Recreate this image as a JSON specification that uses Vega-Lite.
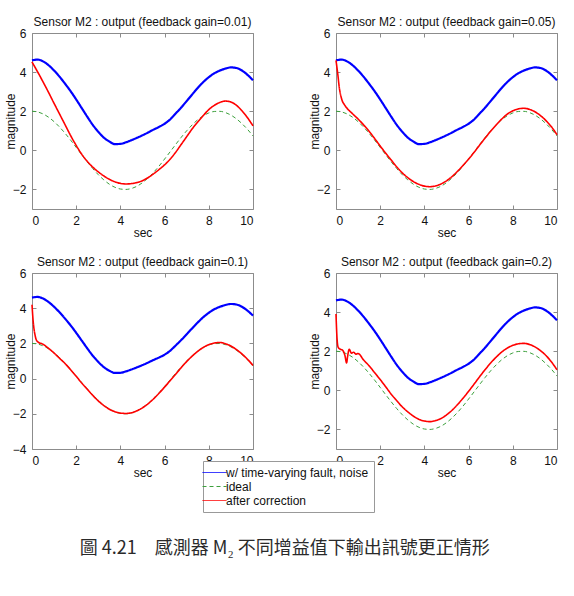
{
  "$schema": "https://vega.github.io/schema/vega-lite/v6.json",
  "background": "white",
  "padding": {"left": 3, "top": 15, "right": 5, "bottom": 5},
  "title": {
    "text": "圖 4.21　感測器 M₂ 不同增益值下輸出訊號更正情形",
    "orient": "bottom",
    "anchor": "start",
    "dx": 76,
    "offset": 27,
    "font": "Noto Sans CJK TC",
    "fontSize": 18,
    "fontWeight": "normal",
    "color": "#2a2a2a"
  },
  "data": {
    "values": [
      {"g": "all", "s": "fault", "t": 0, "v": 4.6},
      {"g": "all", "s": "fault", "t": 0.25, "v": 4.64},
      {"g": "all", "s": "fault", "t": 0.5, "v": 4.55},
      {"g": "all", "s": "fault", "t": 0.75, "v": 4.35},
      {"g": "all", "s": "fault", "t": 1, "v": 4.08},
      {"g": "all", "s": "fault", "t": 1.25, "v": 3.76},
      {"g": "all", "s": "fault", "t": 1.5, "v": 3.4},
      {"g": "all", "s": "fault", "t": 1.75, "v": 3.02},
      {"g": "all", "s": "fault", "t": 2, "v": 2.6},
      {"g": "all", "s": "fault", "t": 2.25, "v": 2.16},
      {"g": "all", "s": "fault", "t": 2.5, "v": 1.72},
      {"g": "all", "s": "fault", "t": 2.75, "v": 1.3},
      {"g": "all", "s": "fault", "t": 3, "v": 0.95},
      {"g": "all", "s": "fault", "t": 3.25, "v": 0.65},
      {"g": "all", "s": "fault", "t": 3.5, "v": 0.45},
      {"g": "all", "s": "fault", "t": 3.75, "v": 0.32},
      {"g": "all", "s": "fault", "t": 4, "v": 0.33},
      {"g": "all", "s": "fault", "t": 4.25, "v": 0.41},
      {"g": "all", "s": "fault", "t": 4.5, "v": 0.52},
      {"g": "all", "s": "fault", "t": 4.75, "v": 0.64},
      {"g": "all", "s": "fault", "t": 5, "v": 0.77},
      {"g": "all", "s": "fault", "t": 5.25, "v": 0.91},
      {"g": "all", "s": "fault", "t": 5.5, "v": 1.06},
      {"g": "all", "s": "fault", "t": 5.75, "v": 1.2},
      {"g": "all", "s": "fault", "t": 6, "v": 1.36},
      {"g": "all", "s": "fault", "t": 6.25, "v": 1.58},
      {"g": "all", "s": "fault", "t": 6.5, "v": 1.88},
      {"g": "all", "s": "fault", "t": 6.75, "v": 2.19},
      {"g": "all", "s": "fault", "t": 7, "v": 2.52},
      {"g": "all", "s": "fault", "t": 7.25, "v": 2.86},
      {"g": "all", "s": "fault", "t": 7.5, "v": 3.19},
      {"g": "all", "s": "fault", "t": 7.75, "v": 3.49},
      {"g": "all", "s": "fault", "t": 8, "v": 3.74},
      {"g": "all", "s": "fault", "t": 8.25, "v": 3.94},
      {"g": "all", "s": "fault", "t": 8.5, "v": 4.08},
      {"g": "all", "s": "fault", "t": 8.75, "v": 4.18},
      {"g": "all", "s": "fault", "t": 9, "v": 4.24},
      {"g": "all", "s": "fault", "t": 9.25, "v": 4.21},
      {"g": "all", "s": "fault", "t": 9.5, "v": 4.08},
      {"g": "all", "s": "fault", "t": 9.75, "v": 3.86},
      {"g": "all", "s": "fault", "t": 10, "v": 3.58},

      {"g": "all", "s": "ideal", "t": 0, "v": 2.0},
      {"g": "all", "s": "ideal", "t": 0.25, "v": 1.965},
      {"g": "all", "s": "ideal", "t": 0.5, "v": 1.862},
      {"g": "all", "s": "ideal", "t": 0.75, "v": 1.693},
      {"g": "all", "s": "ideal", "t": 1, "v": 1.466},
      {"g": "all", "s": "ideal", "t": 1.25, "v": 1.187},
      {"g": "all", "s": "ideal", "t": 1.5, "v": 0.868},
      {"g": "all", "s": "ideal", "t": 1.75, "v": 0.518},
      {"g": "all", "s": "ideal", "t": 2, "v": 0.149},
      {"g": "all", "s": "ideal", "t": 2.25, "v": -0.224},
      {"g": "all", "s": "ideal", "t": 2.5, "v": -0.59},
      {"g": "all", "s": "ideal", "t": 2.75, "v": -0.934},
      {"g": "all", "s": "ideal", "t": 3, "v": -1.247},
      {"g": "all", "s": "ideal", "t": 3.25, "v": -1.511},
      {"g": "all", "s": "ideal", "t": 3.5, "v": -1.732},
      {"g": "all", "s": "ideal", "t": 3.75, "v": -1.888},
      {"g": "all", "s": "ideal", "t": 4, "v": -1.978},
      {"g": "all", "s": "ideal", "t": 4.25, "v": -1.999},
      {"g": "all", "s": "ideal", "t": 4.5, "v": -1.95},
      {"g": "all", "s": "ideal", "t": 4.75, "v": -1.836},
      {"g": "all", "s": "ideal", "t": 5, "v": -1.652},
      {"g": "all", "s": "ideal", "t": 5.25, "v": -1.414},
      {"g": "all", "s": "ideal", "t": 5.5, "v": -1.127},
      {"g": "all", "s": "ideal", "t": 5.75, "v": -0.803},
      {"g": "all", "s": "ideal", "t": 6, "v": -0.445},
      {"g": "all", "s": "ideal", "t": 6.25, "v": -0.075},
      {"g": "all", "s": "ideal", "t": 6.5, "v": 0.298},
      {"g": "all", "s": "ideal", "t": 6.75, "v": 0.661},
      {"g": "all", "s": "ideal", "t": 7, "v": 1.0},
      {"g": "all", "s": "ideal", "t": 7.25, "v": 1.304},
      {"g": "all", "s": "ideal", "t": 7.5, "v": 1.564},
      {"g": "all", "s": "ideal", "t": 7.75, "v": 1.769},
      {"g": "all", "s": "ideal", "t": 8, "v": 1.911},
      {"g": "all", "s": "ideal", "t": 8.25, "v": 1.987},
      {"g": "all", "s": "ideal", "t": 8.5, "v": 1.994},
      {"g": "all", "s": "ideal", "t": 8.75, "v": 1.932},
      {"g": "all", "s": "ideal", "t": 9, "v": 1.802},
      {"g": "all", "s": "ideal", "t": 9.25, "v": 1.611},
      {"g": "all", "s": "ideal", "t": 9.5, "v": 1.365},
      {"g": "all", "s": "ideal", "t": 9.75, "v": 1.075},
      {"g": "all", "s": "ideal", "t": 10, "v": 0.731},

      {"g": "0.01", "s": "corrected", "t": 0, "v": 4.52},
      {"g": "0.01", "s": "corrected", "t": 0.25, "v": 4.02},
      {"g": "0.01", "s": "corrected", "t": 0.5, "v": 3.5},
      {"g": "0.01", "s": "corrected", "t": 0.75, "v": 2.96},
      {"g": "0.01", "s": "corrected", "t": 1, "v": 2.4},
      {"g": "0.01", "s": "corrected", "t": 1.25, "v": 1.85},
      {"g": "0.01", "s": "corrected", "t": 1.5, "v": 1.3},
      {"g": "0.01", "s": "corrected", "t": 1.75, "v": 0.75},
      {"g": "0.01", "s": "corrected", "t": 2, "v": 0.25},
      {"g": "0.01", "s": "corrected", "t": 2.25, "v": -0.2},
      {"g": "0.01", "s": "corrected", "t": 2.5, "v": -0.56},
      {"g": "0.01", "s": "corrected", "t": 2.75, "v": -0.86},
      {"g": "0.01", "s": "corrected", "t": 3, "v": -1.1},
      {"g": "0.01", "s": "corrected", "t": 3.25, "v": -1.31},
      {"g": "0.01", "s": "corrected", "t": 3.5, "v": -1.48},
      {"g": "0.01", "s": "corrected", "t": 3.75, "v": -1.61},
      {"g": "0.01", "s": "corrected", "t": 4, "v": -1.69},
      {"g": "0.01", "s": "corrected", "t": 4.25, "v": -1.72},
      {"g": "0.01", "s": "corrected", "t": 4.5, "v": -1.7},
      {"g": "0.01", "s": "corrected", "t": 4.75, "v": -1.65},
      {"g": "0.01", "s": "corrected", "t": 5, "v": -1.55},
      {"g": "0.01", "s": "corrected", "t": 5.25, "v": -1.4},
      {"g": "0.01", "s": "corrected", "t": 5.5, "v": -1.2},
      {"g": "0.01", "s": "corrected", "t": 5.75, "v": -0.98},
      {"g": "0.01", "s": "corrected", "t": 6, "v": -0.74},
      {"g": "0.01", "s": "corrected", "t": 6.25, "v": -0.45},
      {"g": "0.01", "s": "corrected", "t": 6.5, "v": -0.1},
      {"g": "0.01", "s": "corrected", "t": 6.75, "v": 0.3},
      {"g": "0.01", "s": "corrected", "t": 7, "v": 0.7},
      {"g": "0.01", "s": "corrected", "t": 7.25, "v": 1.1},
      {"g": "0.01", "s": "corrected", "t": 7.5, "v": 1.45},
      {"g": "0.01", "s": "corrected", "t": 7.75, "v": 1.78},
      {"g": "0.01", "s": "corrected", "t": 8, "v": 2.08},
      {"g": "0.01", "s": "corrected", "t": 8.25, "v": 2.3},
      {"g": "0.01", "s": "corrected", "t": 8.5, "v": 2.45},
      {"g": "0.01", "s": "corrected", "t": 8.75, "v": 2.52},
      {"g": "0.01", "s": "corrected", "t": 9, "v": 2.47},
      {"g": "0.01", "s": "corrected", "t": 9.25, "v": 2.3},
      {"g": "0.01", "s": "corrected", "t": 9.5, "v": 2.02},
      {"g": "0.01", "s": "corrected", "t": 9.75, "v": 1.67},
      {"g": "0.01", "s": "corrected", "t": 10, "v": 1.25},

      {"g": "0.05", "s": "corrected", "t": 0, "v": 4.6},
      {"g": "0.05", "s": "corrected", "t": 0.08, "v": 3.9},
      {"g": "0.05", "s": "corrected", "t": 0.15, "v": 3.2},
      {"g": "0.05", "s": "corrected", "t": 0.25, "v": 2.65},
      {"g": "0.05", "s": "corrected", "t": 0.4, "v": 2.3},
      {"g": "0.05", "s": "corrected", "t": 0.5, "v": 2.15},
      {"g": "0.05", "s": "corrected", "t": 0.75, "v": 1.87},
      {"g": "0.05", "s": "corrected", "t": 1, "v": 1.6},
      {"g": "0.05", "s": "corrected", "t": 1.25, "v": 1.3},
      {"g": "0.05", "s": "corrected", "t": 1.5, "v": 0.97},
      {"g": "0.05", "s": "corrected", "t": 1.75, "v": 0.6},
      {"g": "0.05", "s": "corrected", "t": 2, "v": 0.22},
      {"g": "0.05", "s": "corrected", "t": 2.25, "v": -0.15},
      {"g": "0.05", "s": "corrected", "t": 2.5, "v": -0.5},
      {"g": "0.05", "s": "corrected", "t": 2.75, "v": -0.85},
      {"g": "0.05", "s": "corrected", "t": 3, "v": -1.15},
      {"g": "0.05", "s": "corrected", "t": 3.25, "v": -1.4},
      {"g": "0.05", "s": "corrected", "t": 3.5, "v": -1.6},
      {"g": "0.05", "s": "corrected", "t": 3.75, "v": -1.74},
      {"g": "0.05", "s": "corrected", "t": 4, "v": -1.83},
      {"g": "0.05", "s": "corrected", "t": 4.25, "v": -1.86},
      {"g": "0.05", "s": "corrected", "t": 4.5, "v": -1.82},
      {"g": "0.05", "s": "corrected", "t": 4.75, "v": -1.72},
      {"g": "0.05", "s": "corrected", "t": 5, "v": -1.56},
      {"g": "0.05", "s": "corrected", "t": 5.25, "v": -1.34},
      {"g": "0.05", "s": "corrected", "t": 5.5, "v": -1.07},
      {"g": "0.05", "s": "corrected", "t": 5.75, "v": -0.77},
      {"g": "0.05", "s": "corrected", "t": 6, "v": -0.45},
      {"g": "0.05", "s": "corrected", "t": 6.25, "v": -0.1},
      {"g": "0.05", "s": "corrected", "t": 6.5, "v": 0.27},
      {"g": "0.05", "s": "corrected", "t": 6.75, "v": 0.63},
      {"g": "0.05", "s": "corrected", "t": 7, "v": 0.98},
      {"g": "0.05", "s": "corrected", "t": 7.25, "v": 1.3},
      {"g": "0.05", "s": "corrected", "t": 7.5, "v": 1.6},
      {"g": "0.05", "s": "corrected", "t": 7.75, "v": 1.85},
      {"g": "0.05", "s": "corrected", "t": 8, "v": 2.02},
      {"g": "0.05", "s": "corrected", "t": 8.25, "v": 2.12},
      {"g": "0.05", "s": "corrected", "t": 8.5, "v": 2.15},
      {"g": "0.05", "s": "corrected", "t": 8.75, "v": 2.1},
      {"g": "0.05", "s": "corrected", "t": 9, "v": 1.97},
      {"g": "0.05", "s": "corrected", "t": 9.25, "v": 1.78},
      {"g": "0.05", "s": "corrected", "t": 9.5, "v": 1.52},
      {"g": "0.05", "s": "corrected", "t": 9.75, "v": 1.2},
      {"g": "0.05", "s": "corrected", "t": 10, "v": 0.8},

      {"g": "0.1", "s": "corrected", "t": 0, "v": 4.2},
      {"g": "0.1", "s": "corrected", "t": 0.05, "v": 3.3},
      {"g": "0.1", "s": "corrected", "t": 0.15, "v": 2.4},
      {"g": "0.1", "s": "corrected", "t": 0.25, "v": 2.1},
      {"g": "0.1", "s": "corrected", "t": 0.5, "v": 1.95},
      {"g": "0.1", "s": "corrected", "t": 0.75, "v": 1.72},
      {"g": "0.1", "s": "corrected", "t": 1, "v": 1.45},
      {"g": "0.1", "s": "corrected", "t": 1.25, "v": 1.15},
      {"g": "0.1", "s": "corrected", "t": 1.5, "v": 0.85},
      {"g": "0.1", "s": "corrected", "t": 1.75, "v": 0.5},
      {"g": "0.1", "s": "corrected", "t": 2, "v": 0.13},
      {"g": "0.1", "s": "corrected", "t": 2.25, "v": -0.25},
      {"g": "0.1", "s": "corrected", "t": 2.5, "v": -0.6},
      {"g": "0.1", "s": "corrected", "t": 2.75, "v": -0.95},
      {"g": "0.1", "s": "corrected", "t": 3, "v": -1.27},
      {"g": "0.1", "s": "corrected", "t": 3.25, "v": -1.53},
      {"g": "0.1", "s": "corrected", "t": 3.5, "v": -1.74},
      {"g": "0.1", "s": "corrected", "t": 3.75, "v": -1.88},
      {"g": "0.1", "s": "corrected", "t": 4, "v": -1.96},
      {"g": "0.1", "s": "corrected", "t": 4.25, "v": -1.98},
      {"g": "0.1", "s": "corrected", "t": 4.5, "v": -1.94},
      {"g": "0.1", "s": "corrected", "t": 4.75, "v": -1.83},
      {"g": "0.1", "s": "corrected", "t": 5, "v": -1.66},
      {"g": "0.1", "s": "corrected", "t": 5.25, "v": -1.43},
      {"g": "0.1", "s": "corrected", "t": 5.5, "v": -1.15},
      {"g": "0.1", "s": "corrected", "t": 5.75, "v": -0.83},
      {"g": "0.1", "s": "corrected", "t": 6, "v": -0.48},
      {"g": "0.1", "s": "corrected", "t": 6.25, "v": -0.12},
      {"g": "0.1", "s": "corrected", "t": 6.5, "v": 0.25},
      {"g": "0.1", "s": "corrected", "t": 6.75, "v": 0.62},
      {"g": "0.1", "s": "corrected", "t": 7, "v": 0.97},
      {"g": "0.1", "s": "corrected", "t": 7.25, "v": 1.28},
      {"g": "0.1", "s": "corrected", "t": 7.5, "v": 1.55},
      {"g": "0.1", "s": "corrected", "t": 7.75, "v": 1.77},
      {"g": "0.1", "s": "corrected", "t": 8, "v": 1.93},
      {"g": "0.1", "s": "corrected", "t": 8.25, "v": 2.02},
      {"g": "0.1", "s": "corrected", "t": 8.5, "v": 2.05},
      {"g": "0.1", "s": "corrected", "t": 8.75, "v": 1.98},
      {"g": "0.1", "s": "corrected", "t": 9, "v": 1.85},
      {"g": "0.1", "s": "corrected", "t": 9.25, "v": 1.65},
      {"g": "0.1", "s": "corrected", "t": 9.5, "v": 1.4},
      {"g": "0.1", "s": "corrected", "t": 9.75, "v": 1.1},
      {"g": "0.1", "s": "corrected", "t": 10, "v": 0.75},

      {"g": "0.2", "s": "corrected", "t": 0, "v": 3.9},
      {"g": "0.2", "s": "corrected", "t": 0.05, "v": 2.6},
      {"g": "0.2", "s": "corrected", "t": 0.1, "v": 2.2},
      {"g": "0.2", "s": "corrected", "t": 0.2, "v": 2.1},
      {"g": "0.2", "s": "corrected", "t": 0.3, "v": 2.05},
      {"g": "0.2", "s": "corrected", "t": 0.4, "v": 1.8},
      {"g": "0.2", "s": "corrected", "t": 0.48, "v": 1.4},
      {"g": "0.2", "s": "corrected", "t": 0.52, "v": 1.7},
      {"g": "0.2", "s": "corrected", "t": 0.6, "v": 2.1},
      {"g": "0.2", "s": "corrected", "t": 0.7, "v": 1.9},
      {"g": "0.2", "s": "corrected", "t": 0.8, "v": 1.95},
      {"g": "0.2", "s": "corrected", "t": 0.9, "v": 1.85},
      {"g": "0.2", "s": "corrected", "t": 1, "v": 1.88},
      {"g": "0.2", "s": "corrected", "t": 1.25, "v": 1.55},
      {"g": "0.2", "s": "corrected", "t": 1.5, "v": 1.25},
      {"g": "0.2", "s": "corrected", "t": 1.75, "v": 0.9},
      {"g": "0.2", "s": "corrected", "t": 2, "v": 0.55},
      {"g": "0.2", "s": "corrected", "t": 2.25, "v": 0.18},
      {"g": "0.2", "s": "corrected", "t": 2.5, "v": -0.2},
      {"g": "0.2", "s": "corrected", "t": 2.75, "v": -0.53},
      {"g": "0.2", "s": "corrected", "t": 3, "v": -0.85},
      {"g": "0.2", "s": "corrected", "t": 3.25, "v": -1.1},
      {"g": "0.2", "s": "corrected", "t": 3.5, "v": -1.32},
      {"g": "0.2", "s": "corrected", "t": 3.75, "v": -1.48},
      {"g": "0.2", "s": "corrected", "t": 4, "v": -1.57},
      {"g": "0.2", "s": "corrected", "t": 4.25, "v": -1.6},
      {"g": "0.2", "s": "corrected", "t": 4.5, "v": -1.55},
      {"g": "0.2", "s": "corrected", "t": 4.75, "v": -1.44},
      {"g": "0.2", "s": "corrected", "t": 5, "v": -1.26},
      {"g": "0.2", "s": "corrected", "t": 5.25, "v": -1.02},
      {"g": "0.2", "s": "corrected", "t": 5.5, "v": -0.73},
      {"g": "0.2", "s": "corrected", "t": 5.75, "v": -0.4},
      {"g": "0.2", "s": "corrected", "t": 6, "v": -0.05},
      {"g": "0.2", "s": "corrected", "t": 6.25, "v": 0.32},
      {"g": "0.2", "s": "corrected", "t": 6.5, "v": 0.7},
      {"g": "0.2", "s": "corrected", "t": 6.75, "v": 1.06},
      {"g": "0.2", "s": "corrected", "t": 7, "v": 1.4},
      {"g": "0.2", "s": "corrected", "t": 7.25, "v": 1.7},
      {"g": "0.2", "s": "corrected", "t": 7.5, "v": 1.96},
      {"g": "0.2", "s": "corrected", "t": 7.75, "v": 2.16},
      {"g": "0.2", "s": "corrected", "t": 8, "v": 2.3},
      {"g": "0.2", "s": "corrected", "t": 8.25, "v": 2.38},
      {"g": "0.2", "s": "corrected", "t": 8.5, "v": 2.4},
      {"g": "0.2", "s": "corrected", "t": 8.75, "v": 2.35},
      {"g": "0.2", "s": "corrected", "t": 9, "v": 2.22},
      {"g": "0.2", "s": "corrected", "t": 9.25, "v": 2.03},
      {"g": "0.2", "s": "corrected", "t": 9.5, "v": 1.78},
      {"g": "0.2", "s": "corrected", "t": 9.75, "v": 1.45},
      {"g": "0.2", "s": "corrected", "t": 10, "v": 1.05}
    ]
  },
  "columns": 2,
  "spacing": {"row": 64, "column": 83},
  "bounds": "flush",
  "concat": [
    {
      "width": 221, "height": 176,
      "title": "Sensor M2 : output (feedback gain=0.01)",
      "transform": [{"filter": "datum.g === 'all' || datum.g === '0.01'"}],
      "layer": [
        {
          "mark": {"type": "line", "interpolate": "monotone"},
          "encoding": {
            "x": {"field": "t", "type": "quantitative", "scale": {"domain": [0, 10], "nice": false}, "axis": {"title": "sec", "values": [0, 2, 4, 6, 8, 10]}},
            "y": {"field": "v", "type": "quantitative", "scale": {"domain": [-3, 6], "nice": false, "zero": false}, "axis": {"title": "magnitude", "values": [-2, 0, 2, 4, 6]}},
            "color": {"field": "s", "type": "nominal", "scale": {"domain": ["fault", "ideal", "corrected"], "range": ["#0000ff", "#3ca03c", "#ff0000"]}, "legend": {"title": null, "orient": "none", "legendX": 171, "legendY": 428, "labelExpr": "datum.label == 'fault' ? 'w/ time-varying fault, noise' : datum.label == 'corrected' ? 'after correction' : datum.label"}},
            "strokeDash": {"field": "s", "type": "nominal", "scale": {"domain": ["fault", "ideal", "corrected"], "range": [[1, 0], [4, 3], [1, 0]]}, "legend": {"title": null, "orient": "none", "legendX": 171, "legendY": 428, "labelExpr": "datum.label == 'fault' ? 'w/ time-varying fault, noise' : datum.label == 'corrected' ? 'after correction' : datum.label"}},
            "strokeWidth": {"condition": [{"test": "datum.s === 'fault'", "value": 2.2}, {"test": "datum.s === 'corrected'", "value": 1.6}], "value": 1}
          }
        },
        {
          "mark": {"type": "line", "opacity": 0},
          "encoding": {
            "x": {"field": "t", "type": "quantitative", "axis": {"orient": "top", "labels": false, "title": null, "values": [0, 2, 4, 6, 8, 10]}},
            "y": {"field": "v", "type": "quantitative", "axis": {"orient": "right", "labels": false, "title": null, "values": [-2, 0, 2, 4, 6]}},
            "detail": {"field": "s"}
          }
        }
      ],
      "resolve": {"axis": {"x": "independent", "y": "independent"}}
    },
    {
      "width": 221, "height": 176,
      "title": "Sensor M2 : output (feedback gain=0.05)",
      "transform": [{"filter": "datum.g === 'all' || datum.g === '0.05'"}],
      "layer": [
        {
          "mark": {"type": "line", "interpolate": "monotone"},
          "encoding": {
            "x": {"field": "t", "type": "quantitative", "scale": {"domain": [0, 10], "nice": false}, "axis": {"title": "sec", "values": [0, 2, 4, 6, 8, 10]}},
            "y": {"field": "v", "type": "quantitative", "scale": {"domain": [-3, 6], "nice": false, "zero": false}, "axis": {"title": "magnitude", "values": [-2, 0, 2, 4, 6]}},
            "color": {"field": "s", "type": "nominal", "scale": {"domain": ["fault", "ideal", "corrected"], "range": ["#0000ff", "#3ca03c", "#ff0000"]}, "legend": {"title": null, "orient": "none", "legendX": 171, "legendY": 428, "labelExpr": "datum.label == 'fault' ? 'w/ time-varying fault, noise' : datum.label == 'corrected' ? 'after correction' : datum.label"}},
            "strokeDash": {"field": "s", "type": "nominal", "scale": {"domain": ["fault", "ideal", "corrected"], "range": [[1, 0], [4, 3], [1, 0]]}, "legend": {"title": null, "orient": "none", "legendX": 171, "legendY": 428, "labelExpr": "datum.label == 'fault' ? 'w/ time-varying fault, noise' : datum.label == 'corrected' ? 'after correction' : datum.label"}},
            "strokeWidth": {"condition": [{"test": "datum.s === 'fault'", "value": 2.2}, {"test": "datum.s === 'corrected'", "value": 1.6}], "value": 1}
          }
        },
        {
          "mark": {"type": "line", "opacity": 0},
          "encoding": {
            "x": {"field": "t", "type": "quantitative", "axis": {"orient": "top", "labels": false, "title": null, "values": [0, 2, 4, 6, 8, 10]}},
            "y": {"field": "v", "type": "quantitative", "axis": {"orient": "right", "labels": false, "title": null, "values": [-2, 0, 2, 4, 6]}},
            "detail": {"field": "s"}
          }
        }
      ],
      "resolve": {"axis": {"x": "independent", "y": "independent"}}
    },
    {
      "width": 221, "height": 176,
      "title": "Sensor M2 : output (feedback gain=0.1)",
      "transform": [{"filter": "datum.g === 'all' || datum.g === '0.1'"}],
      "layer": [
        {
          "mark": {"type": "line", "interpolate": "monotone"},
          "encoding": {
            "x": {"field": "t", "type": "quantitative", "scale": {"domain": [0, 10], "nice": false}, "axis": {"title": "sec", "values": [0, 2, 4, 6, 8, 10]}},
            "y": {"field": "v", "type": "quantitative", "scale": {"domain": [-4, 6], "nice": false, "zero": false}, "axis": {"title": "magnitude", "values": [-4, -2, 0, 2, 4, 6]}},
            "color": {"field": "s", "type": "nominal", "scale": {"domain": ["fault", "ideal", "corrected"], "range": ["#0000ff", "#3ca03c", "#ff0000"]}, "legend": {"title": null, "orient": "none", "legendX": 171, "legendY": 428, "labelExpr": "datum.label == 'fault' ? 'w/ time-varying fault, noise' : datum.label == 'corrected' ? 'after correction' : datum.label"}},
            "strokeDash": {"field": "s", "type": "nominal", "scale": {"domain": ["fault", "ideal", "corrected"], "range": [[1, 0], [4, 3], [1, 0]]}, "legend": {"title": null, "orient": "none", "legendX": 171, "legendY": 428, "labelExpr": "datum.label == 'fault' ? 'w/ time-varying fault, noise' : datum.label == 'corrected' ? 'after correction' : datum.label"}},
            "strokeWidth": {"condition": [{"test": "datum.s === 'fault'", "value": 2.2}, {"test": "datum.s === 'corrected'", "value": 1.6}], "value": 1}
          }
        },
        {
          "mark": {"type": "line", "opacity": 0},
          "encoding": {
            "x": {"field": "t", "type": "quantitative", "axis": {"orient": "top", "labels": false, "title": null, "values": [0, 2, 4, 6, 8, 10]}},
            "y": {"field": "v", "type": "quantitative", "axis": {"orient": "right", "labels": false, "title": null, "values": [-4, -2, 0, 2, 4, 6]}},
            "detail": {"field": "s"}
          }
        }
      ],
      "resolve": {"axis": {"x": "independent", "y": "independent"}}
    },
    {
      "width": 221, "height": 176,
      "title": "Sensor M2 : output (feedback gain=0.2)",
      "transform": [{"filter": "datum.g === 'all' || datum.g === '0.2'"}],
      "layer": [
        {
          "mark": {"type": "line", "interpolate": "monotone"},
          "encoding": {
            "x": {"field": "t", "type": "quantitative", "scale": {"domain": [0, 10], "nice": false}, "axis": {"title": "sec", "values": [0, 2, 4, 6, 8, 10]}},
            "y": {"field": "v", "type": "quantitative", "scale": {"domain": [-3, 6], "nice": false, "zero": false}, "axis": {"title": "magnitude", "values": [-2, 0, 2, 4, 6]}},
            "color": {"field": "s", "type": "nominal", "scale": {"domain": ["fault", "ideal", "corrected"], "range": ["#0000ff", "#3ca03c", "#ff0000"]}, "legend": {"title": null, "orient": "none", "legendX": 171, "legendY": 428, "labelExpr": "datum.label == 'fault' ? 'w/ time-varying fault, noise' : datum.label == 'corrected' ? 'after correction' : datum.label"}},
            "strokeDash": {"field": "s", "type": "nominal", "scale": {"domain": ["fault", "ideal", "corrected"], "range": [[1, 0], [4, 3], [1, 0]]}, "legend": {"title": null, "orient": "none", "legendX": 171, "legendY": 428, "labelExpr": "datum.label == 'fault' ? 'w/ time-varying fault, noise' : datum.label == 'corrected' ? 'after correction' : datum.label"}},
            "strokeWidth": {"condition": [{"test": "datum.s === 'fault'", "value": 2.2}, {"test": "datum.s === 'corrected'", "value": 1.6}], "value": 1}
          }
        },
        {
          "mark": {"type": "line", "opacity": 0},
          "encoding": {
            "x": {"field": "t", "type": "quantitative", "axis": {"orient": "top", "labels": false, "title": null, "values": [0, 2, 4, 6, 8, 10]}},
            "y": {"field": "v", "type": "quantitative", "axis": {"orient": "right", "labels": false, "title": null, "values": [-2, 0, 2, 4, 6]}},
            "detail": {"field": "s"}
          }
        }
      ],
      "resolve": {"axis": {"x": "independent", "y": "independent"}}
    }
  ],
  "config": {
    "font": "Liberation Sans",
    "view": {"stroke": "#8c8c8c", "strokeWidth": 1},
    "axis": {
      "domain": false,
      "grid": false,
      "tickSize": -4,
      "tickColor": "#8c8c8c",
      "labelFont": "Liberation Sans",
      "labelFontSize": 12,
      "labelColor": "#111",
      "labelPadding": 10,
      "titleFont": "Liberation Sans",
      "titleFontSize": 12,
      "titleFontWeight": "normal",
      "titleColor": "#111"
    },
    "axisX": {"titlePadding": 1},
    "axisY": {"titlePadding": -5},
    "title": {"font": "Liberation Sans", "fontSize": 12, "fontWeight": "normal", "color": "#111", "offset": -2},
    "legend": {
      "labelFont": "Liberation Sans",
      "labelFontSize": 12,
      "labelColor": "#111",
      "symbolType": "M-2,0H2",
      "symbolSize": 144,
      "symbolStrokeWidth": 1,
      "rowPadding": 1,
      "padding": 5,
      "strokeColor": "#999",
      "fillColor": "white",
      "labelOffset": 5
    }
  }
}
